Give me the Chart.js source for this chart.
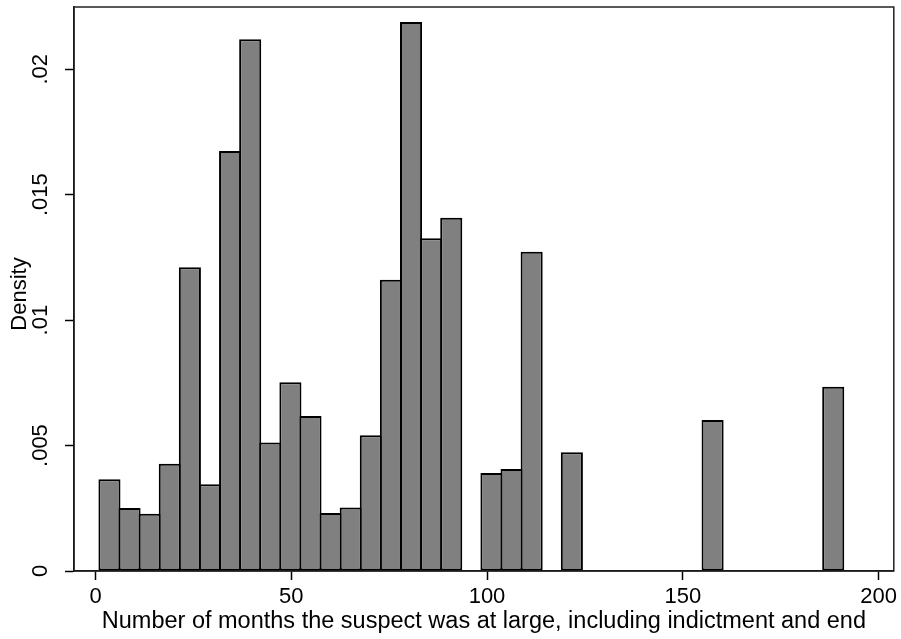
<!DOCTYPE html>
<html>
<head>
<meta charset="utf-8">
<script src="https://cdn.jsdelivr.net/npm/chart.js@4/dist/chart.umd.min.js"></script>
<style>
  html, body { margin: 0; padding: 0; background: #fff; }
  #wrap { width: 901px; height: 639px; position: relative; }
</style>
</head>
<body>
<div id="wrap"><canvas id="histChart"></canvas></div>
<script>
// Histograma: 37 intervalos de igual ancho entre 1 y 191 meses
const binMin = 1;
const binMax = 191;
const density = [
    0.00366, 0.00251, 0.00228, 0.00427, 0.01211, 0.00346, 0.01674, 0.02119,
    0.00512, 0.00752, 0.00618, 0.00231, 0.00253, 0.00541, 0.01161, 0.02188,
    0.01326, 0.01408, 0, 0.00391, 0.00407, 0.01272, 0, 0.00473,
    0, 0, 0, 0, 0, 0, 0.00602, 0,
    0, 0, 0, 0, 0.00734
];
const xTicks = [0, 50, 100, 150, 200];
const yTicks = [0, 0.005, 0.01, 0.015, 0.02];
const yTickLabels = ['0', '.005', '.01', '.015', '.02'];
const xTitle = 'Number of months the suspect was at large, including indictment and end';
const yTitle = 'Density';

const FONT = '"Liberation Sans", Arial, Helvetica, sans-serif';

// centros de cada intervalo
const binWidth = (binMax - binMin) / density.length;
const points = density.map(function(d, i) {
    return { x: binMin + binWidth * (i + 0.5), y: d };
});

// marco del área de gráfico + etiquetas y título del eje Y girados
const framePlugin = {
    id: 'frame',
    afterDraw: function(chart) {
        const ctx = chart.ctx;
        const a = chart.chartArea;
        const y = chart.scales.y;
        ctx.save();
        ctx.strokeStyle = '#222';
        ctx.lineWidth = 1.5;
        ctx.strokeRect(a.left, a.top, a.right - a.left, a.bottom - a.top);

        ctx.fillStyle = '#000';
        ctx.textAlign = 'center';
        ctx.textBaseline = 'middle';
        ctx.font = '22px ' + FONT;
        yTicks.forEach(function(v, i) {
            const py = y.getPixelForValue(v);
            ctx.save();
            ctx.translate(41, py);
            ctx.rotate(-Math.PI / 2);
            ctx.fillText(yTickLabels[i], 0, 0);
            ctx.restore();
        });

        ctx.save();
        ctx.translate(20, (a.top + a.bottom) / 2 + 5);
        ctx.rotate(-Math.PI / 2);
        ctx.fillText(yTitle, 0, 0);
        ctx.restore();
        ctx.restore();
    }
};

const ctx = document.getElementById('histChart').getContext('2d');
const histChart = new Chart(ctx, {
    type: 'bar',
    data: {
        datasets: [{
            data: points,
            backgroundColor: '#808080',
            borderColor: '#000',
            borderWidth: function(c) { return c.raw && c.raw.y > 0 ? 2 : 0; },
            borderSkipped: false,
            barPercentage: 1.099,
            categoryPercentage: 1
        }]
    },
    options: {
        responsive: true,
        maintainAspectRatio: false,
        animation: false,
        layout: { padding: { left: 0, top: 7, right: 7, bottom: 0 } },
        plugins: {
            legend: { display: false },
            tooltip: { enabled: false }
        },
        scales: {
            x: {
                type: 'linear',
                min: -5.49,
                max: 203.9,
                offset: false,
                afterBuildTicks: function(s) {
                    s.ticks = xTicks.map(function(v) { return { value: v }; });
                },
                afterFit: function(s) { s.height = 68; },
                grid: {
                    offset: false,
                    drawOnChartArea: false,
                    drawTicks: true,
                    tickLength: 9,
                    tickWidth: 1.5,
                    tickColor: '#000'
                },
                border: { display: true, color: '#000', width: 1.5 },
                ticks: {
                    color: '#000',
                    padding: 4,
                    maxRotation: 0,
                    font: { family: FONT, size: 22 }
                },
                title: {
                    display: true,
                    text: xTitle,
                    color: '#000',
                    padding: { top: 0, bottom: 3 },
                    font: { family: FONT, size: 23.5 }
                }
            },
            y: {
                min: 0,
                max: 0.02248,
                afterBuildTicks: function(s) {
                    s.ticks = yTicks.map(function(v) { return { value: v }; });
                },
                afterFit: function(s) { s.width = 74; },
                grid: {
                    drawOnChartArea: false,
                    drawTicks: true,
                    tickLength: 9,
                    tickWidth: 1.5,
                    tickColor: '#000'
                },
                border: { display: true, color: '#000', width: 1.5 },
                ticks: { display: false },
                title: { display: false }
            }
        }
    },
    plugins: [framePlugin]
});
</script>
</body>
</html>
